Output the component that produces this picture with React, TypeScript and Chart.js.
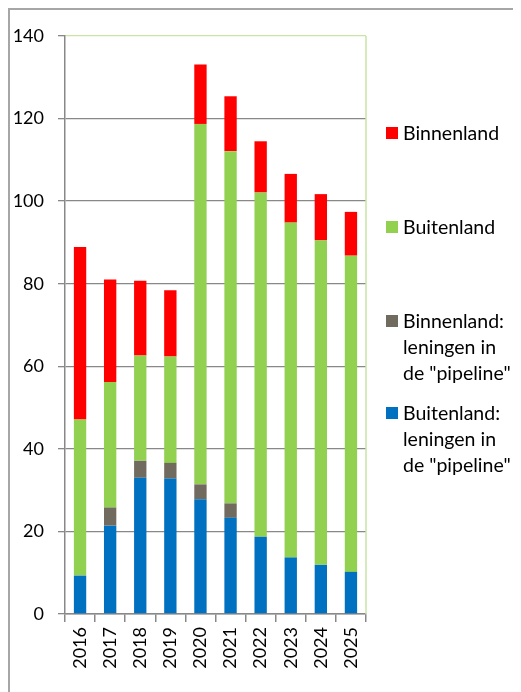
import React, { useEffect, useRef } from "react";
import { Chart, registerables } from "chart.js";

Chart.register(...registerables);

const years = ["2016", "2017", "2018", "2019", "2020", "2021", "2022", "2023", "2024", "2025"];
const buitenlandPipeline = [9.3, 21.4, 33.0, 32.8, 27.8, 23.3, 18.7, 13.7, 11.9, 10.2];
const binnenlandPipeline = [0, 4.4, 4.1, 3.8, 3.6, 3.5, 0, 0, 0, 0];
const buitenland = [37.8, 30.4, 25.5, 25.8, 87.3, 85.3, 83.4, 81.1, 78.6, 76.6];
const binnenland = [41.8, 24.8, 18.1, 16.0, 14.4, 13.3, 12.4, 11.8, 11.2, 10.6];

const RED = "#FF0000";
const GREEN = "#92D050";
const GREY = "#716A5E";
const BLUE = "#0070C0";

const legendItems = [
  { color: RED, lines: ["Binnenland"] },
  { color: GREEN, lines: ["Buitenland"] },
  { color: GREY, lines: ["Binnenland:", "leningen in", 'de "pipeline"'] },
  { color: BLUE, lines: ["Buitenland:", "leningen in", 'de "pipeline"'] },
];
const legendTops = [112, 206, 300, 392];

const FONT = "Lato, 'Open Sans', sans-serif";

export default function App() {
  const ref = useRef<HTMLCanvasElement | null>(null);

  useEffect(() => {
    if (!ref.current) return;
    const borderPlugin = {
      id: "plotBorder",
      afterDraw(chart: any) {
        const { ctx, chartArea } = chart;
        ctx.save();
        ctx.strokeStyle = "#C9E5A6";
        ctx.lineWidth = 1.5;
        ctx.beginPath();
        ctx.moveTo(chartArea.right, chartArea.top);
        ctx.lineTo(chartArea.right, chartArea.bottom);
        ctx.stroke();
        ctx.restore();
      },
    };
    const chart = new Chart(ref.current, {
      type: "bar",
      data: {
        labels: years,
        datasets: [
          { label: 'Buitenland: leningen in de "pipeline"', data: buitenlandPipeline, backgroundColor: BLUE },
          { label: 'Binnenland: leningen in de "pipeline"', data: binnenlandPipeline, backgroundColor: GREY },
          { label: "Buitenland", data: buitenland, backgroundColor: GREEN },
          { label: "Binnenland", data: binnenland, backgroundColor: RED },
        ],
      },
      options: {
        animation: false,
        responsive: true,
        maintainAspectRatio: false,
        layout: { padding: { top: 28, right: 155, left: 0, bottom: 0 } },
        datasets: { bar: { categoryPercentage: 1, barPercentage: 0.41 } },
        plugins: { legend: { display: false }, tooltip: { enabled: false } },
        scales: {
          x: {
            stacked: true,
            grid: {
              display: true,
              drawOnChartArea: false,
              drawTicks: true,
              tickLength: 8,
              color: "#888888",
              lineWidth: 1.5,
              offset: true,
            },
            border: { display: true, color: "#888888", width: 1.5 },
            ticks: {
              minRotation: 90,
              maxRotation: 90,
              padding: 5,
              color: "#000000",
              font: { family: FONT, size: 18 },
            },
            afterFit: (s: any) => {
              s.height = 78;
            },
          },
          y: {
            stacked: true,
            min: 0,
            max: 140,
            ticks: {
              stepSize: 20,
              padding: 14,
              color: "#000000",
              font: { family: FONT, size: 18 },
            },
            grid: {
              color: (c: any) => (c.tick && c.tick.value === 140 ? "#C9E5A6" : "#888888"),
              tickColor: "#888888",
              tickLength: 7,
              lineWidth: 1.3,
            },
            border: { display: true, color: "#888888", width: 1.5 },
            afterFit: (s: any) => {
              s.width = 57;
            },
          },
        },
      },
      plugins: [borderPlugin],
    });
    return () => chart.destroy();
  }, []);

  return (
    <div style={{ position: "relative", width: 513, height: 684, fontFamily: FONT }}>
      <div
        style={{
          position: "absolute",
          left: 0,
          top: 0,
          width: 513,
          height: 684,
          borderTop: "2px solid #A6A6A6",
          borderLeft: "2px solid #A6A6A6",
          boxSizing: "border-box",
        }}
      />
      <div style={{ position: "absolute", left: 0, top: 0, width: 513, height: 684 }}>
        <canvas ref={ref} />
      </div>
      {legendItems.map((item, i) => (
        <div
          key={i}
          style={{
            position: "absolute",
            left: 378,
            top: legendTops[i],
            fontSize: 19.5,
            lineHeight: "26px",
            color: "#000",
            whiteSpace: "nowrap",
          }}
        >
          <div
            style={{
              position: "absolute",
              left: 0,
              top: 7,
              width: 12,
              height: 12,
              background: item.color,
            }}
          />
          <div style={{ marginLeft: 17 }}>
            {item.lines.map((l, j) => (
              <div key={j}>{l}</div>
            ))}
          </div>
        </div>
      ))}
    </div>
  );
}
